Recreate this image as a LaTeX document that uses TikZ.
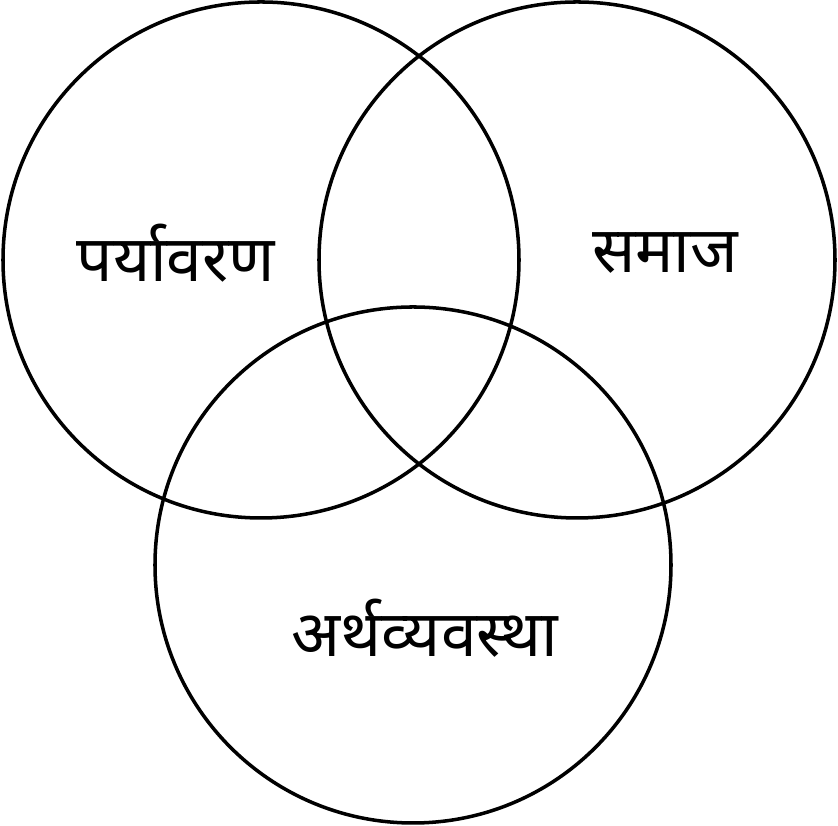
\documentclass[tikz,border=0pt]{standalone}
\usepackage{fontspec}
\usepackage{tikz}
\usetikzlibrary{positioning}
\newfontfamily\devfont[Script=Devanagari]{Noto Sans}

\begin{document}
\begin{tikzpicture}[
    ring/.style={circle, draw=black, line width=2pt, minimum size=10.32cm, inner sep=0pt},
    lbl/.style={font=\devfont\fontsize{36.5}{44}\selectfont, text=black, inner sep=0pt},
]
\useasboundingbox (0,0) rectangle (16.76,16.52);

% --- Circles ---
\node[ring] (env)  at ( 5.22, 11.32) {};
\node[ring] (soc)  at (11.54, 11.32) {};
\node[ring] (econ) at ( 8.26,  5.22) {};

% --- Labels ---
\node[lbl] (envl)  at ( 3.52, 11.46) {पर्यावरण};
\node[lbl] (socl)  at (13.30, 11.46) {समाज};
\node[lbl] (econl) at ( 8.50,  3.96) {अर्थव्यवस्था};
\end{tikzpicture}
\end{document}
